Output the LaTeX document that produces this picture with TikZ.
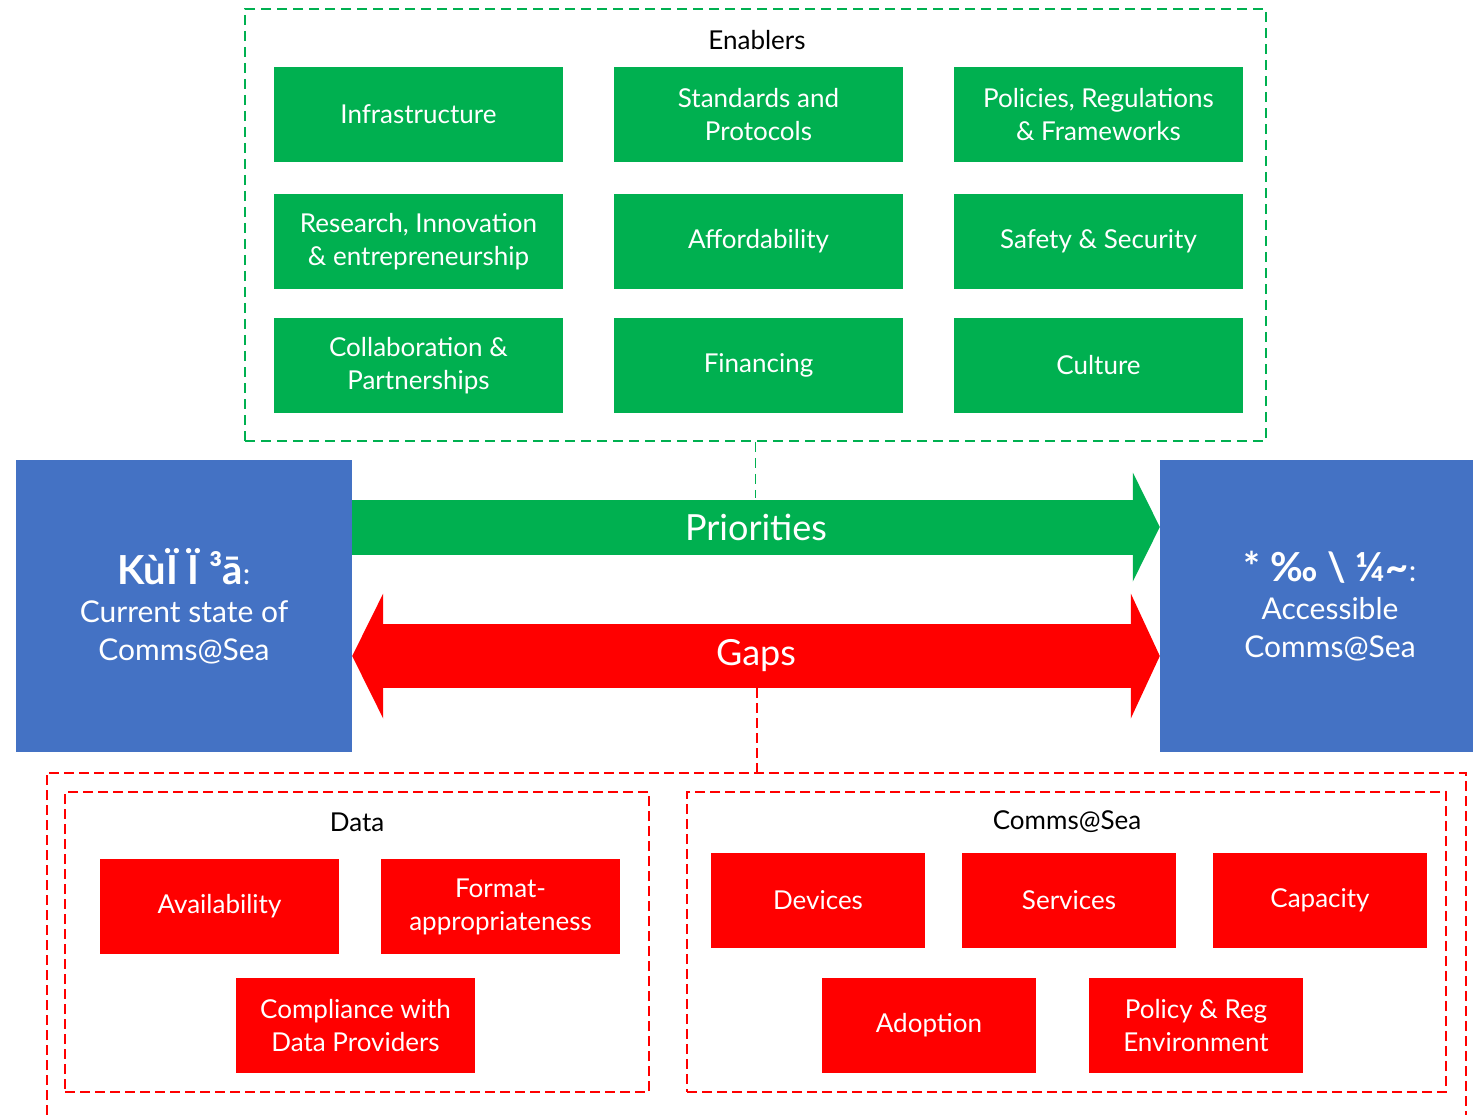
\documentclass[tikz,border=0pt]{standalone}
\usepackage{fontspec}
\setmainfont{Lato}
\usetikzlibrary{arrows.meta,calc,positioning}
\definecolor{enablergreen}{HTML}{00B050}
\definecolor{gapred}{HTML}{FF0000}
\definecolor{stateblue}{HTML}{4472C4}
\tikzset{
  enabler/.style = {
    fill=enablergreen, text=white, align=center, inner sep=0pt,
    minimum width=289pt, minimum height=95pt,
    font=\fontsize{26}{33}\selectfont
  },
  gapitem/.style = {
    fill=gapred, text=white, align=center, inner sep=0pt,
    minimum height=95pt,
    font=\fontsize{26}{33}\selectfont
  },
  statebox/.style = {
    fill=stateblue, text=white, align=center, inner sep=0pt,
    minimum height=292pt,
    font=\fontsize{30}{38}\selectfont
  },
  grouptitle/.style = {
    inner sep=0pt, font=\fontsize{26}{30}\selectfont
  },
  greenframe/.style = {
    draw=enablergreen, line width=1.8pt, dash pattern=on 10pt off 6pt
  },
  redframe/.style = {
    draw=gapred, line width=2pt, dash pattern=on 10pt off 5pt
  },
  prioarrow/.style = {
    draw=enablergreen, line width=55pt,
    -{Triangle[length=27pt, width=109pt, line width=0pt]}
  },
  gaparrow/.style = {
    draw=gapred, line width=64pt,
    {Triangle[length=31pt, width=125pt, line width=0pt]}-{Triangle[length=29pt, width=125pt, line width=0pt]}
  },
  arrowlabel/.style = {
    text=white, inner sep=0pt, font=\fontsize{36}{40}\selectfont
  }
}
\newcommand{\statehead}[1]{{\fontsize{40}{44}\selectfont\bfseries #1}}

\begin{document}
\begin{tikzpicture}[x=1pt,y=-1pt]
    \useasboundingbox (0,0) rectangle (1473,1115);

    \node[greenframe, minimum width=1021pt, minimum height=432pt] (enablers) at (755.5,225) {};
    \node[grouptitle] (enablerstitle) at (757,40) {Enablers};

    \node[enabler] (infra)    at (418.5,114.5)  {Infrastructure};
    \node[enabler] (stds)     at (758.5,114.5)  {Standards and\\Protocols};
    \node[enabler] (policies) at (1098.5,114.5) {Policies, Regulations\\\& Frameworks};
    \node[enabler] (research) at (418.5,241.5)  {Research, Innovation\\\& entrepreneurship};
    \node[enabler] (afford)   at (758.5,241.5)  {Affordability};
    \node[enabler] (safety)   at (1098.5,241.5) {Safety \& Security};
    \node[enabler] (collab)   at (418.5,365.5)  {Collaboration \&\\Partnerships};
    \node[enabler] (finance)  at (758.5,365.5)  {Financing};
    \node[enabler] (culture)  at (1098.5,365.5) {Culture};

    \node[statebox, minimum width=336pt] (current) at (184,606)
      {\statehead{KùÏ Ï ³ā}:\\Current state of\\Comms@Sea};
    \node[statebox, minimum width=340pt] (access) at (1330,606)
      {\statehead{* ‰ \textbackslash\ ¼\textasciitilde}:\\Accessible\\Comms@Sea};

    \coordinate (prioy)   at (0,527);
    \coordinate (priotop) at (0,498);
    \coordinate (gapy)    at (0,656);
    \coordinate (gapbot)  at (0,688);

    \draw[prioarrow] (current.east |- prioy) -- (access.west |- prioy)
      node[midway, arrowlabel] (priolabel) {Priorities};
    \draw[gaparrow] (current.east |- gapy) -- (access.west |- gapy)
      node[midway, arrowlabel] (gaplabel) {Gaps};

    \node[minimum width=1419pt, minimum height=342pt, inner sep=0pt] (gaps) at (756.5,944) {};
    \draw[redframe] (gaps.south west) -- (gaps.north west) -- (gaps.north east) -- (gaps.south east);

    \draw[greenframe] (enablers.south) -- (enablers.south |- priotop);
    \draw[redframe] (gaps.north |- gapbot) -- (gaps.north);

    \node[redframe, minimum width=584pt, minimum height=300pt] (data) at (357,942) {};
    \node[grouptitle] (datatitle) at (357,822) {Data};
    \node[gapitem, minimum width=239pt] (avail)   at (219.5,906.5)  {Availability};
    \node[gapitem, minimum width=239pt] (format)  at (500.5,906.5)  {Format-\\appropriateness};
    \node[gapitem, minimum width=239pt] (comply)  at (355.5,1025.5) {Compliance with\\Data Providers};

    \node[redframe, minimum width=759pt, minimum height=300pt] (comms) at (1066.5,942) {};
    \node[grouptitle] (commstitle) at (1067,822) {Comms@Sea};
    \node[gapitem, minimum width=214pt] (devices)  at (818,900.5)   {Devices};
    \node[gapitem, minimum width=214pt] (services) at (1069,900.5)  {Services};
    \node[gapitem, minimum width=214pt] (capacity) at (1320,900.5)  {Capacity};
    \node[gapitem, minimum width=214pt] (adoption) at (929,1025.5)  {Adoption};
    \node[gapitem, minimum width=214pt] (policyreg) at (1196,1025.5) {Policy \& Reg\\Environment};
\end{tikzpicture}
\end{document}
